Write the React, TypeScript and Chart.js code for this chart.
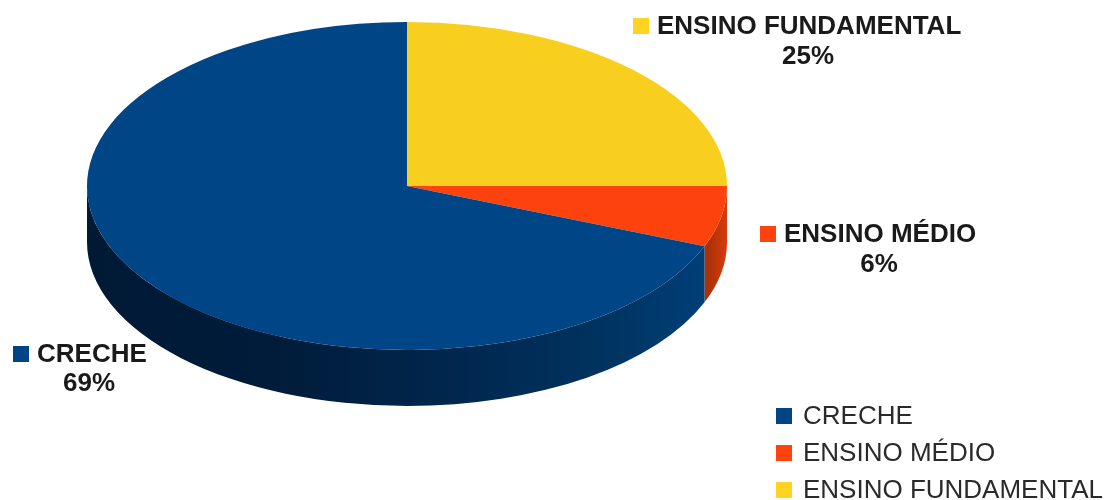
import React, { useEffect, useRef } from "react";
import { Chart, registerables } from "chart.js";

Chart.register(...registerables);

// Series in legend order
const categories = ["CRECHE", "ENSINO MÉDIO", "ENSINO FUNDAMENTAL"];
const shares = [69, 6, 25];
const topColors = ["#004586", "#fd420e", "#f9cf1f"];
const keyColors = ["#004586", "#ff420e", "#ffd320"];

// Slices run clockwise from twelve o'clock in the reverse of legend order
const sliceOrder = [2, 1, 0];

// Geometry of the tilted disc
const CX = 407;
const CY = 186;
const RX = 320;
const RY = 164;
const DEPTH = 56;

const FONT = '"Liberation Sans", Arial, sans-serif';

function wallGradient(ctx: CanvasRenderingContext2D, idx: number) {
  const g = ctx.createLinearGradient(CX - RX, 0, CX + RX, 0);
  if (idx === 0) {
    g.addColorStop(0, "#001a36");
    g.addColorStop(0.3, "#001c3a");
    g.addColorStop(0.6, "#002850");
    g.addColorStop(0.8, "#00335f");
    g.addColorStop(0.97, "#003f78");
    g.addColorStop(1, "#003f78");
  } else if (idx === 1) {
    g.addColorStop(0.9, "#c83a0c");
    g.addColorStop(0.97, "#a93008");
    g.addColorStop(1, "#d83c0c");
  } else {
    g.addColorStop(0, "#b0921a");
    g.addColorStop(1, "#d0ac1a");
  }
  return g;
}

const discPlugin = {
  id: "tiltedDisc",
  beforeDatasetsDraw(chart: Chart) {
    const { ctx } = chart;
    const arcs = chart.getDatasetMeta(0).data as any[];
    arcs.forEach((arc, i) => {
      const idx = sliceOrder[i];
      // Keep only the part of the slice facing the viewer
      const tau = Math.PI * 2;
      for (const shift of [0, -tau]) {
        const a0 = Math.max(arc.startAngle + shift, 0);
        const a1 = Math.min(arc.endAngle + shift, Math.PI);
        if (a1 <= a0) continue;
        ctx.beginPath();
        ctx.ellipse(CX, CY, RX, RY, 0, a0, a1);
        ctx.lineTo(CX + RX * Math.cos(a1), CY + DEPTH + RY * Math.sin(a1));
        ctx.ellipse(CX, CY + DEPTH, RX, RY, 0, a1, a0, true);
        ctx.closePath();
        ctx.fillStyle = wallGradient(ctx, idx);
        ctx.fill();
      }
    });
    // Stretch the round pie horizontally into an ellipse for the top face
    ctx.save();
    ctx.translate(CX, CY);
    ctx.scale(RX / RY, 1);
    ctx.translate(-CX, -CY);
  },
  afterDatasetsDraw(chart: Chart) {
    chart.ctx.restore();
  },
};

// Square key followed by a bold name, with the share centred below
const sliceLabelSpots = [
  { keyX: 13, nameX: 37, y: 354, shareX: 89, shareY: 383 },
  { keyX: 760, nameX: 784, y: 234, shareX: 879, shareY: 264 },
  { keyX: 633, nameX: 657, y: 26, shareX: 808, shareY: 56 },
];
const legendKeyX = 776;
const legendTextX = 803;
const legendRows = [416, 453, 490];

const textPlugin = {
  id: "pieText",
  afterDraw(chart: Chart) {
    const { ctx } = chart;
    ctx.save();
    ctx.textBaseline = "middle";
    categories.forEach((name, i) => {
      const s = sliceLabelSpots[i];
      ctx.fillStyle = keyColors[i];
      ctx.fillRect(s.keyX, s.y - 8, 16, 16);
      ctx.fillStyle = "#1a1a1a";
      ctx.font = `bold 26px ${FONT}`;
      ctx.textAlign = "left";
      ctx.fillText(name, s.nameX, s.y + 1);
      ctx.textAlign = "center";
      ctx.fillText(`${shares[i]}%`, s.shareX, s.shareY + 1);

      ctx.fillStyle = keyColors[i];
      ctx.fillRect(legendKeyX, legendRows[i] - 8, 16, 16);
      ctx.fillStyle = "#2a2a2a";
      ctx.font = `26px ${FONT}`;
      ctx.textAlign = "left";
      ctx.fillText(name, legendTextX, legendRows[i] + 1);
    });
    ctx.restore();
  },
};

export default function App() {
  const ref = useRef<HTMLCanvasElement>(null);

  useEffect(() => {
    if (!ref.current) return;
    const chart = new Chart(ref.current, {
      type: "pie",
      data: {
        labels: sliceOrder.map((i) => categories[i]),
        datasets: [
          {
            data: sliceOrder.map((i) => shares[i]),
            backgroundColor: sliceOrder.map((i) => topColors[i]),
            borderWidth: 0,
            clip: false,
          } as any,
        ],
      },
      options: {
        responsive: false,
        animation: false,
        layout: {
          padding: {
            left: CX - RY,
            right: 1106 - CX - RY,
            top: CY - RY,
            bottom: 500 - CY - RY,
          },
        },
        plugins: {
          legend: { display: false },
          tooltip: { enabled: false },
          title: { display: false },
        },
      },
      plugins: [discPlugin, textPlugin],
    });
    return () => chart.destroy();
  }, []);

  return (
    <div style={{ position: "fixed", left: 0, top: 0, width: 1106, height: 500, background: "#fff" }}>
      <canvas ref={ref} width={1106} height={500} style={{ display: "block" }} />
    </div>
  );
}
